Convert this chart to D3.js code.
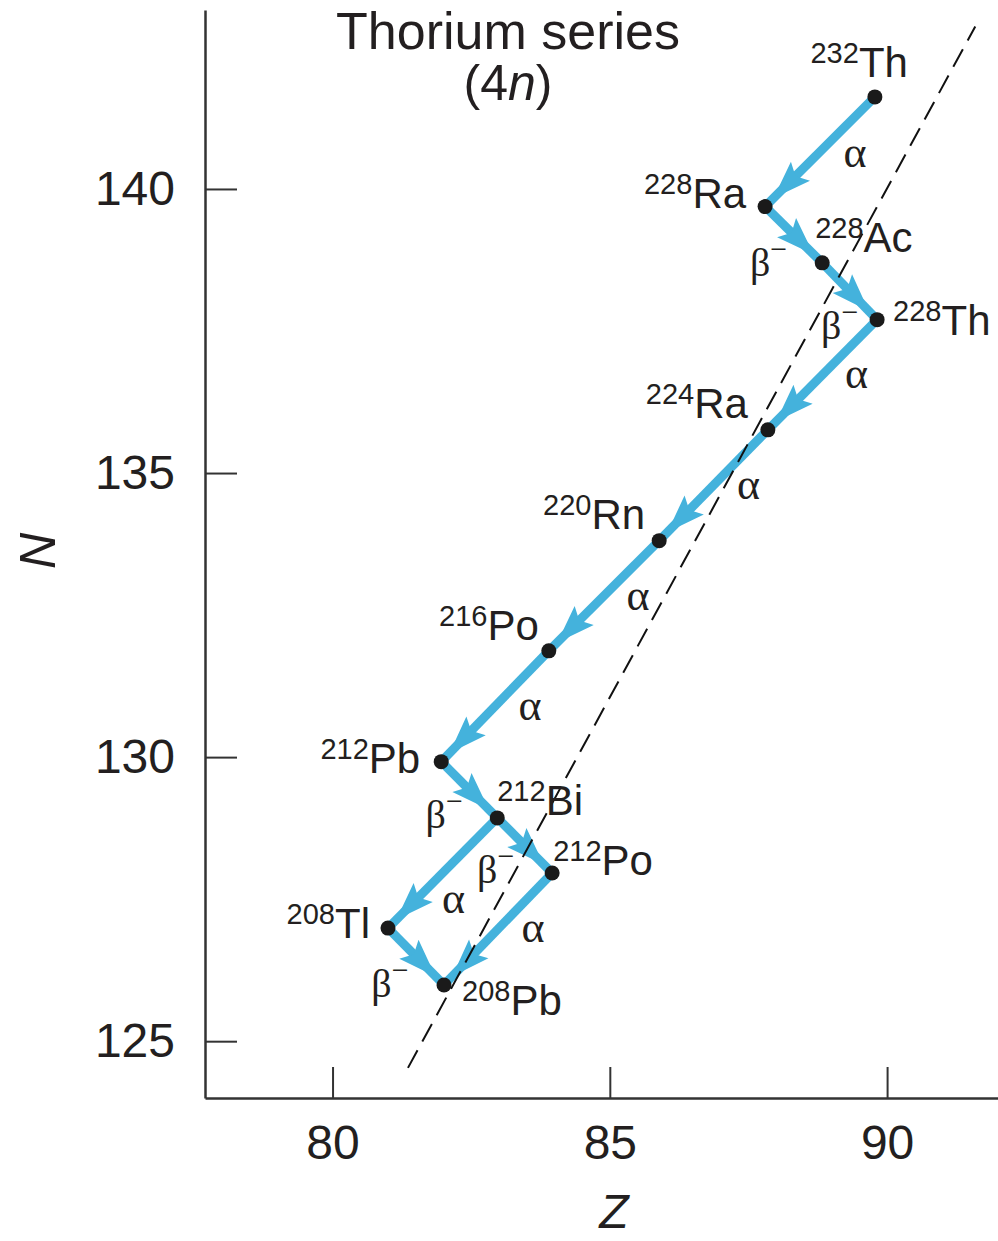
<!DOCTYPE html>
<html>
<head>
<meta charset="utf-8">
<script src="https://cdn.jsdelivr.net/npm/d3@7"></script>
<style>
  body { margin: 0; background: #fff; }
  svg text { font-family: "Liberation Sans", Arial, Helvetica, sans-serif; fill: #231f20; }
  svg text.mode-label { font-family: "Liberation Serif", "DejaVu Serif", serif; }
</style>
</head>
<body>
<div id="chart"></div>
<script>
// nuclides of the thorium (4n) chain, Z and N as placed in the figure
const nuclideMass = [232, 228, 228, 228, 224, 220, 216, 212, 212, 212, 208, 208];
const nuclideSymbol = ['Th', 'Ra', 'Ac', 'Th', 'Ra', 'Rn', 'Po', 'Pb', 'Bi', 'Po', 'Tl', 'Pb'];
const nuclideZ = [89.78, 87.80, 88.83, 89.82, 87.85, 85.89, 83.90, 81.96, 82.97, 83.96, 81.00, 82.01];
const nuclideN = [141.62, 139.69, 138.70, 137.70, 135.76, 133.81, 131.87, 129.92, 128.93, 127.96, 126.99, 125.99];

// decays: index of parent, index of daughter, mode
const decayFrom = [0, 1, 2, 3, 4, 5, 6, 7, 8, 8, 9, 10];
const decayTo = [1, 2, 3, 4, 5, 6, 7, 8, 9, 10, 11, 11];
const decayMode = ['α', 'β', 'β', 'α', 'α', 'α', 'α', 'β', 'β', 'α', 'α', 'β'];

// dashed N = Z line ends
const lineZ = [81.36, 91.59];
const lineN = [124.53, 142.86];

const xTicks = [80, 85, 90];
const yTicks = [125, 130, 135, 140];

// label placement (anchor, dx, dy from the dot)
const nuclideLabelPos = [
  ['end', 33, -20], ['end', -19, 1], ['start', -7, -11], ['start', 16, 15],
  ['end', -20, -12], ['end', -14, -12], ['end', -10, -11], ['end', -21, 11],
  ['start', 0, -3], ['start', 1, 2], ['end', -18, 10], ['start', 18, 30]
];
// decay label offset from arrow midpoint
const decayLabelPos = [
  [35, 15], [-25, 41], [-10, 48], [34, 13], [35, 14], [34, 14],
  [35, 14], [-25, 38], [-29, 38], [11, 40], [35, 13], [-26, 40]
];

class DecayChart {

  constructor(_config) {
    this.config = {
      parentElement: _config.parentElement,
      containerWidth: _config.containerWidth || 998,
      containerHeight: _config.containerHeight || 1241
    }
    this.initVis();
  }

  initVis() {
    const vis = this;

    vis.svg = d3.select(vis.config.parentElement).append('svg')
      .attr('width', vis.config.containerWidth)
      .attr('height', vis.config.containerHeight);

    vis.xScale = d3.scaleLinear().domain([77.7, 92]).range([205, 998]);
    vis.yScale = d3.scaleLinear().domain([124, 143.15]).range([1098, 10]);

    vis.xAxis = d3.axisBottom(vis.xScale)
      .tickValues(xTicks)
      .tickSizeInner(-31)
      .tickSizeOuter(0)
      .tickPadding(27);

    vis.yAxis = d3.axisLeft(vis.yScale)
      .tickValues(yTicks)
      .tickSizeInner(-32)
      .tickSizeOuter(0)
      .tickPadding(30);

    vis.chart = vis.svg.append('g');
    vis.renderVis();
  }

  renderVis() {
    const vis = this;
    const x = vis.xScale, y = vis.yScale;

    const xG = vis.chart.append('g')
      .attr('transform', `translate(0,${y.range()[0]})`)
      .call(vis.xAxis);
    const yG = vis.chart.append('g')
      .attr('transform', `translate(${x.range()[0]},0)`)
      .call(vis.yAxis);

    [xG, yG].forEach(g => {
      g.select('.domain').attr('stroke', '#333').attr('stroke-width', 2.5);
      g.selectAll('.tick line').attr('stroke', '#333').attr('stroke-width', 2);
      g.selectAll('.tick text')
        .style('font-size', '48px')
        .style('font-family', '"Liberation Sans", Arial, sans-serif')
        .attr('fill', '#231f20');
    });

    // axis titles
    vis.svg.append('text')
      .attr('x', 614)
      .attr('y', 1228)
      .attr('text-anchor', 'middle')
      .style('font-size', '48px')
      .style('font-style', 'italic')
      .text('Z');

    vis.svg.append('text')
      .attr('transform', 'translate(37,551) rotate(-90)')
      .attr('dy', '0.36em')
      .attr('text-anchor', 'middle')
      .style('font-size', '50px')
      .style('font-style', 'italic')
      .text('N');

    // title
    vis.svg.append('text')
      .attr('x', 508)
      .attr('y', 49)
      .attr('text-anchor', 'middle')
      .style('font-size', '52px')
      .text('Thorium series');

    const sub = vis.svg.append('text')
      .attr('x', 508)
      .attr('y', 100)
      .attr('text-anchor', 'middle')
      .style('font-size', '50px');
    sub.append('tspan').text('(4');
    sub.append('tspan').style('font-style', 'italic').text('n');
    sub.append('tspan').text(')');

    const nodes = nuclideMass.map((m, i) => ({
      mass: m, symbol: nuclideSymbol[i], px: x(nuclideZ[i]), py: y(nuclideN[i])
    }));
    const decays = decayFrom.map((f, i) => ({
      source: nodes[f], target: nodes[decayTo[i]], mode: decayMode[i], off: decayLabelPos[i]
    }));

    const arrowColour = '#44b2dc';
    const headLen = 38, headHalf = 13.5, notch = 7, tipGap = 12;

    const arrowHead = d => {
      const dx = d.target.px - d.source.px, dy = d.target.py - d.source.py;
      const len = Math.hypot(dx, dy);
      const ux = dx / len, uy = dy / len, nx = -uy, ny = ux;
      const tx = d.target.px - tipGap * ux, ty = d.target.py - tipGap * uy;
      const bx = tx - headLen * ux, by = ty - headLen * uy;
      const kx = tx - (headLen - notch) * ux, ky = ty - (headLen - notch) * uy;
      return `M${tx},${ty}L${bx + headHalf * nx},${by + headHalf * ny}L${kx},${ky}L${bx - headHalf * nx},${by - headHalf * ny}Z`;
    };

    vis.chart.selectAll('.shaft')
      .data(decays)
      .join('line')
      .attr('class', 'shaft')
      .attr('x1', d => d.source.px)
      .attr('y1', d => d.source.py)
      .attr('x2', d => d.target.px)
      .attr('y2', d => d.target.py)
      .attr('stroke', arrowColour)
      .attr('stroke-width', 9);

    vis.chart.selectAll('.head')
      .data(decays)
      .join('path')
      .attr('class', 'head')
      .attr('d', arrowHead)
      .attr('fill', arrowColour);

    // dashed N = Z guide
    vis.chart.append('line')
      .attr('x1', x(lineZ[0]))
      .attr('y1', y(lineN[0]))
      .attr('x2', x(lineZ[1]))
      .attr('y2', y(lineN[1]))
      .attr('stroke', '#111')
      .attr('stroke-width', 2)
      .attr('stroke-dasharray', '20,10');

    vis.chart.selectAll('.dot')
      .data(nodes)
      .join('circle')
      .attr('class', 'dot')
      .attr('cx', d => d.px)
      .attr('cy', d => d.py)
      .attr('r', 7.5)
      .attr('fill', '#1a1a1a');

    const labels = vis.chart.selectAll('.nuc-label')
      .data(nodes)
      .join('text')
      .attr('class', 'nuc-label')
      .attr('text-anchor', (d, i) => nuclideLabelPos[i][0])
      .attr('x', (d, i) => d.px + nuclideLabelPos[i][1])
      .attr('y', (d, i) => d.py + nuclideLabelPos[i][2]);
    labels.append('tspan')
      .style('font-size', '29px')
      .attr('dy', -14)
      .text(d => d.mass);
    labels.append('tspan')
      .style('font-size', '42px')
      .attr('dy', 14)
      .text(d => d.symbol);

    const modeLabels = vis.chart.selectAll('.mode-label')
      .data(decays)
      .join('text')
      .attr('class', 'mode-label')
      .attr('text-anchor', 'middle')
      .attr('x', d => (d.source.px + d.target.px) / 2 + d.off[0])
      .attr('y', d => (d.source.py + d.target.py) / 2 + d.off[1])
      .style('font-size', d => d.mode === 'α' ? '44px' : '40px');
    modeLabels.append('tspan')
      .text(d => d.mode);
    modeLabels.filter(d => d.mode === 'β')
      .append('tspan')
      .attr('dy', -17)
      .style('font-size', '30px')
      .text('−');
  }
}

const chart = new DecayChart({ parentElement: '#chart' });
</script>
</body>
</html>
